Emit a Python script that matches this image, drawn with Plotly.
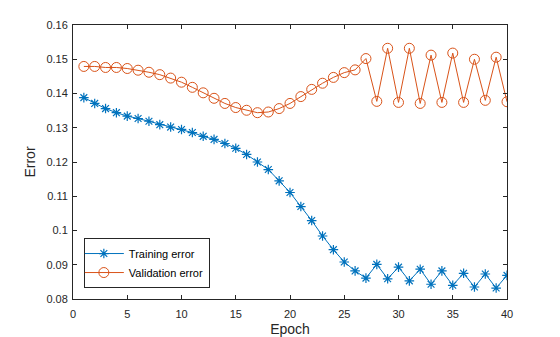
import plotly.graph_objects as go

epochs = list(range(1, 41))
training_error = [0.1388, 0.1371, 0.1356, 0.1344, 0.1334, 0.1327, 0.1319, 0.1309, 0.1302, 0.1295,
                  0.1286, 0.1275, 0.1266, 0.1254, 0.1240, 0.1222, 0.1200, 0.1178, 0.1145, 0.1111,
                  0.1070, 0.1029, 0.0984, 0.0944, 0.0908, 0.0882, 0.0861, 0.0901, 0.0859, 0.0893,
                  0.0853, 0.0887, 0.0843, 0.0882, 0.0840, 0.0875, 0.0835, 0.0873, 0.0832, 0.0869]
validation_error = [0.1479, 0.1479, 0.1476, 0.1476, 0.1473, 0.1468, 0.1462, 0.1455, 0.1445, 0.1433,
                    0.1418, 0.1402, 0.1386, 0.1371, 0.1359, 0.1351, 0.1344, 0.1346, 0.1356, 0.1371,
                    0.1391, 0.1412, 0.1430, 0.1447, 0.1461, 0.1469, 0.1502, 0.1377, 0.1532, 0.1374,
                    0.1532, 0.1371, 0.1512, 0.1374, 0.1518, 0.1374, 0.1500, 0.1380, 0.1506, 0.1376]
x_ticks = [0, 5, 10, 15, 20, 25, 30, 35, 40]
y_ticks = [0.08, 0.09, 0.10, 0.11, 0.12, 0.13, 0.14, 0.15, 0.16]
y_tick_labels = ["0.08", "0.09", "0.1", "0.11", "0.12", "0.13", "0.14", "0.15", "0.16"]

blue = "#0072BD"
orange = "#D95319"
axc = "#262626"
font = "Liberation Sans, Arial, sans-serif"

fig = go.Figure()
fig.add_trace(go.Scatter(x=epochs, y=training_error, mode="lines+markers", name="Training error",
                         line=dict(color=blue, width=1),
                         marker=dict(symbol="asterisk-open", size=8, color=blue,
                                     line=dict(color=blue, width=1.2))))
fig.add_trace(go.Scatter(x=epochs, y=validation_error, mode="lines+markers", name="Validation error",
                         line=dict(color=orange, width=1),
                         marker=dict(symbol="circle-open", size=10, color=orange,
                                     line=dict(color=orange, width=1))))

axis_common = dict(showline=True, linecolor=axc, linewidth=1, mirror="allticks",
                   ticks="inside", ticklen=4, tickcolor=axc, showgrid=False, zeroline=False,
                   automargin=False,
                   tickfont=dict(family=font, size=11, color=axc))

fig.update_xaxes(range=[0, 40], tickvals=x_ticks, ticklabelstandoff=5,
                 title=dict(text="Epoch", font=dict(family=font, size=14, color=axc)),
                 **axis_common)
fig.update_yaxes(range=[0.08, 0.16], tickvals=y_ticks, ticktext=y_tick_labels, ticklabelstandoff=2,
                 title=dict(text="Error", font=dict(family=font, size=14, color=axc), standoff=7),
                 **axis_common)

fig.update_layout(width=560, height=337, margin=dict(l=73, r=53, t=25, b=38),
                  plot_bgcolor="white", paper_bgcolor="white",
                  font=dict(family=font, size=11, color=axc),
                  legend=dict(x=0.025, y=0.04, xanchor="left", yanchor="bottom",
                              bgcolor="white", bordercolor=axc, borderwidth=1,
                              font=dict(family=font, size=11, color="black"),
                              tracegroupgap=0, itemwidth=40, indentation=-6))

fig.write_html("out.html")
